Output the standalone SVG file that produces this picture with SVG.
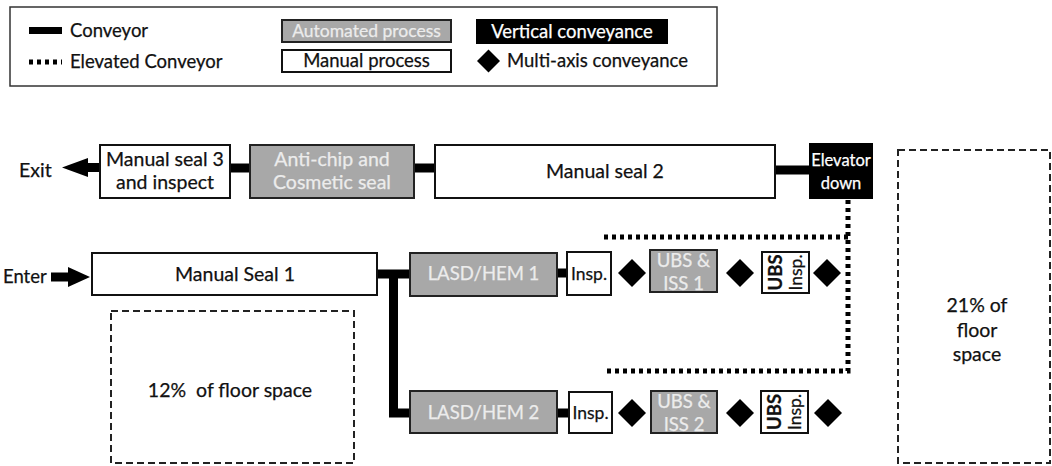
<svg xmlns="http://www.w3.org/2000/svg" width="1052" height="466" viewBox="0 0 1052 466">
  <style>
    text { font-family: Lato, "Open Sans", "Liberation Sans", sans-serif; fill: #111; stroke: #111; stroke-width: 0.25; }
    .manual { fill: #fff; stroke: #111; stroke-width: 2; }
    .auto { fill: #a8a8a8; stroke: #222; stroke-width: 2; }
    .vert { fill: #000; stroke: #000; stroke-width: 2; }
    .area { fill: none; stroke: #222; stroke-width: 2; stroke-dasharray: 7 4; }
    .conv { fill: none; stroke: #000; stroke-width: 9; stroke-linejoin: miter; }
    .elev { fill: none; stroke: #000; stroke-width: 5; stroke-dasharray: 4 4; }
    .t19 { font-size: 19.5px; }
    .t18 { font-size: 18.5px; }
    .t17 { font-size: 17.5px; }
    .t16 { font-size: 16.5px; }
    .lt { fill: #ececec; stroke: #ececec; }
    .wt { fill: #fff; stroke: #fff; }
    .mid { text-anchor: middle; }
  </style>
  <defs>
    <path id="dia" d="M0,-14 L14,0 L0,14 L-14,0 Z" fill="#000"/>
    <path id="diaS" d="M0,-11.5 L11.5,0 L0,11.5 L-11.5,0 Z" fill="#000"/>
  </defs>

  <!-- legend -->
  <g id="legend">
    <rect x="10" y="7" width="707" height="79" fill="#fff" stroke="#333" stroke-width="1.5"/>
    <rect x="29" y="27" width="33" height="7" fill="#000"/>
    <text x="70" y="37" class="t18">Conveyor</text>
    <line x1="29" y1="62" x2="62" y2="62" class="elev" stroke-width="4"/>
    <text x="70" y="68" class="t18">Elevated Conveyor</text>
    <rect x="282" y="20" width="169" height="22" class="auto"/>
    <text x="366.5" y="37" class="t17 mid lt">Automated process</text>
    <rect x="282" y="50" width="169" height="22" class="manual"/>
    <text x="366.5" y="67" class="t18 mid">Manual process</text>
    <rect x="477" y="20" width="190" height="23" class="vert"/>
    <text x="572" y="37.5" class="t18 mid wt">Vertical conveyance</text>
    <use href="#diaS" x="488.5" y="61"/>
    <text x="507" y="67" class="t18">Multi-axis conveyance</text>
  </g>

  <!-- conveyors -->
  <g id="connectors">
    <!-- exit -->
    <line x1="100" y1="167.5" x2="86" y2="167.5" class="conv"/>
    <polygon points="62,167.5 88,158 88,177" fill="#000"/>
    <line x1="230" y1="168" x2="250" y2="168" class="conv"/>
    <line x1="414" y1="168" x2="435" y2="168" class="conv"/>
    <line x1="775" y1="170" x2="810" y2="170" class="conv"/>
    <!-- elevated return loop from the elevator -->
    <path d="M848,200 V371 H607" class="elev"/>
    <path d="M848,237 H600" class="elev"/>
    <!-- enter -->
    <line x1="51" y1="277" x2="70" y2="277" class="conv"/>
    <polygon points="90,277 68,267 68,287" fill="#000"/>
    <!-- split after manual seal 1 -->
    <path d="M377,274 H410" class="conv"/>
    <path d="M393.5,274 V413 H410" class="conv"/>
    <line x1="557" y1="273" x2="567" y2="273" class="conv"/>
    <line x1="557" y1="413" x2="569" y2="413" class="conv"/>
  </g>

  <text x="19" y="177" class="t19">Exit</text>
  <text x="3" y="283" class="t18">Enter</text>

  <g id="manual-seal-3">
    <rect x="100" y="145" width="130" height="53" class="manual"/>
    <text x="165" y="166" class="t19 mid">Manual seal 3</text>
    <text x="165" y="189" class="t19 mid">and inspect</text>
  </g>
  <g id="anti-chip">
    <rect x="250" y="145" width="164" height="53" class="auto"/>
    <text x="332" y="166" class="t19 mid lt">Anti-chip and</text>
    <text x="332" y="189" class="t19 mid lt">Cosmetic seal</text>
  </g>
  <g id="manual-seal-2">
    <rect x="435" y="145" width="340" height="53" class="manual"/>
    <text x="605" y="178" class="t19 mid">Manual seal 2</text>
  </g>
  <g id="elevator-down">
    <rect x="810" y="144" width="62" height="54" class="vert"/>
    <text x="841" y="166" class="t16 mid wt">Elevator</text>
    <text x="841" y="189" class="t16 mid wt">down</text>
  </g>

  <g id="manual-seal-1">
    <rect x="92" y="253" width="285" height="42" class="manual"/>
    <text x="235" y="281" class="t19 mid">Manual Seal 1</text>
  </g>

  <g id="lasd-hem-1">
    <rect x="410" y="253" width="147" height="43" class="auto"/>
    <text x="483.5" y="280" class="t18 mid lt">LASD/HEM 1</text>
  </g>
  <g id="insp-1">
    <rect x="567" y="252" width="44" height="43" class="manual"/>
    <text x="589" y="280" class="t17 mid">Insp.</text>
  </g>
  <g id="ubs-iss-1">
    <rect x="650" y="250" width="67" height="42" class="auto"/>
    <text x="683.5" y="267" class="t18 mid lt">UBS &amp;</text>
    <text x="683.5" y="290" class="t18 mid lt">ISS 1</text>
  </g>
  <g id="ubs-insp-1">
    <rect x="762" y="252" width="47" height="41" class="manual"/>
    <g transform="translate(785.5,272.5) rotate(-90)">
      <text x="0" y="-4" class="t18 mid" font-weight="bold">UBS</text>
      <text x="0" y="16" class="t17 mid">Insp.</text>
    </g>
  </g>
  <g id="transfer-1">
    <use href="#dia" x="632" y="273"/>
    <use href="#dia" x="740" y="273"/>
    <use href="#dia" x="827" y="273"/>
  </g>

  <g id="lasd-hem-2">
    <rect x="410" y="391" width="147" height="42" class="auto"/>
    <text x="483.5" y="419" class="t18 mid lt">LASD/HEM 2</text>
  </g>
  <g id="insp-2">
    <rect x="569" y="392" width="43" height="41" class="manual"/>
    <text x="590.5" y="419" class="t17 mid">Insp.</text>
  </g>
  <g id="ubs-iss-2">
    <rect x="651" y="391" width="66" height="42" class="auto"/>
    <text x="684" y="408" class="t18 mid lt">UBS &amp;</text>
    <text x="684" y="431" class="t18 mid lt">ISS 2</text>
  </g>
  <g id="ubs-insp-2">
    <rect x="761" y="391" width="47" height="42" class="manual"/>
    <g transform="translate(784.5,412) rotate(-90)">
      <text x="0" y="-4" class="t18 mid" font-weight="bold">UBS</text>
      <text x="0" y="16" class="t17 mid">Insp.</text>
    </g>
  </g>
  <g id="transfer-2">
    <use href="#dia" x="632" y="413"/>
    <use href="#dia" x="740" y="413"/>
    <use href="#dia" x="828" y="413"/>
  </g>

  <g id="area-12">
    <rect x="111" y="311" width="243" height="152" class="area"/>
    <text x="230" y="397" class="t19 mid" xml:space="preserve">12%  of floor space</text>
  </g>
  <g id="area-21">
    <rect x="898" y="150" width="152" height="313" class="area"/>
    <text x="977" y="312" class="t19 mid">21% of</text>
    <text x="977" y="337" class="t19 mid">floor</text>
    <text x="977" y="361" class="t19 mid">space</text>
  </g>
</svg>
